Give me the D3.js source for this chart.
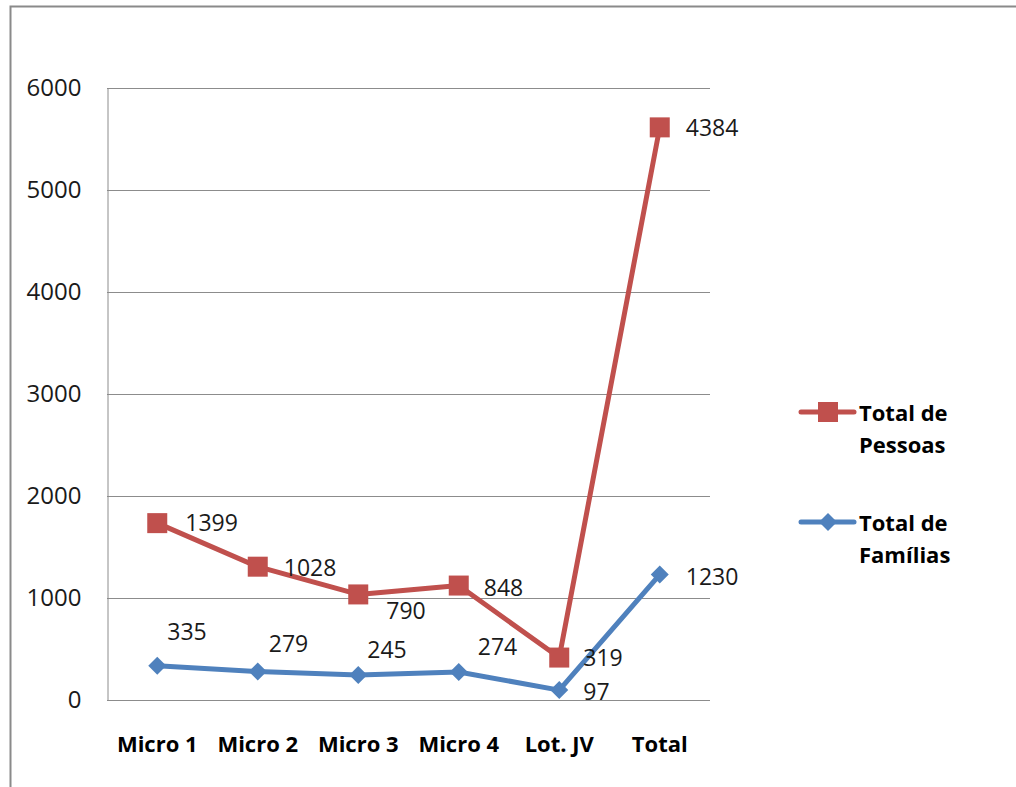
<!DOCTYPE html>
<html>
<head>
<meta charset="utf-8">
<script src="https://cdn.jsdelivr.net/npm/d3@7"></script>
<style>
  html, body { margin: 0; padding: 0; background: #fff; }
  svg { display: block; }
  text { font-family: "Open Sans", "Liberation Sans", sans-serif; }
</style>
</head>
<body>
<svg id="chart" width="1016" height="787"></svg>
<script>
// ---- data ----
const categories = ["Micro 1", "Micro 2", "Micro 3", "Micro 4", "Lot. JV", "Total"];
const familias = [335, 279, 245, 274, 97, 1230];
const pessoas = [1399, 1028, 790, 848, 319, 4384];
const yTicks = [0, 1000, 2000, 3000, 4000, 5000, 6000];
const seriesNames = ["Total de Pessoas", "Total de Famílias"];
// label placement offsets (dx, dy) relative to point
const pessoasLabelDx = [28, 26, 28, 25, 24, 26];
const pessoasLabelDy = [0, 1, 17, 2, 0, 1];
const familiasLabelDx = [10, 11, 9, 19, 24, 26];
const familiasLabelDy = [-34, -28, -25, -25, 2, 2];

(function () {
const svg = d3.select("#chart");
const W = 1016, H = 787;

// outer frame
svg.append("rect").attr("x", 10.5).attr("y", 6.5).attr("width", W + 20).attr("height", H + 20)
  .attr("fill", "#fff").attr("stroke", "#8a8a8a").attr("stroke-width", 2);

const pl = 107, pr = 710, pt = 88, pb = 700;
const x = d3.scaleBand().domain(categories).range([pl, pr]);
const cx = d => x(d) + x.bandwidth() / 2;
const y = d3.scaleLinear().domain([0, 6000]).range([pb, pt]);

// gridlines
svg.append("g").selectAll("line").data(yTicks).join("line")
  .attr("x1", pl).attr("x2", pr)
  .attr("y1", d => Math.round(y(d)) + 0.5).attr("y2", d => Math.round(y(d)) + 0.5)
  .attr("stroke", "#8c8c8c").attr("stroke-width", 1);

// y axis
const yAxis = d3.axisLeft(y).tickValues(yTicks).tickFormat(d3.format("d")).tickSize(0).tickPadding(26);
const gy = svg.append("g").attr("transform", `translate(${pl + 0.5},0)`).call(yAxis);
gy.select(".domain").attr("stroke", "#8c8c8c");
gy.selectAll("text").attr("font-size", 24).attr("fill", "#1a1a1a")
  .attr("font-family", "'Open Sans', sans-serif");

// x axis labels
const xAxis = d3.axisBottom(x).tickSize(0).tickPadding(0);
const gx = svg.append("g").attr("transform", `translate(0,${pb})`).call(xAxis);
gx.select(".domain").remove();
gx.selectAll("text").attr("font-size", 22).attr("font-weight", "bold").attr("fill", "#000")
  .attr("dy", 0).attr("y", 52).attr("font-family", "'Open Sans', sans-serif");

// stacked values: Pessoas plotted on top of Famílias
const stacked = pessoas.map((v, i) => v + familias[i]);

const red = "#C0504D", blue = "#4F81BD";
const line = d3.line().x((d, i) => cx(categories[i])).y(d => y(d));

svg.append("path").datum(familias).attr("d", line)
  .attr("fill", "none").attr("stroke", blue).attr("stroke-width", 5).attr("stroke-linejoin", "round");
svg.append("path").datum(stacked).attr("d", line)
  .attr("fill", "none").attr("stroke", red).attr("stroke-width", 5).attr("stroke-linejoin", "round");

// markers
const sq = 20, dm = 9;
svg.append("g").selectAll("rect").data(stacked).join("rect")
  .attr("x", (d, i) => cx(categories[i]) - sq / 2).attr("y", d => y(d) - sq / 2)
  .attr("width", sq).attr("height", sq).attr("fill", red);
svg.append("g").selectAll("path").data(familias).join("path")
  .attr("d", (d, i) => {
    const px = cx(categories[i]), py = y(d);
    return `M${px},${py - dm}L${px + dm},${py}L${px},${py + dm}L${px - dm},${py}Z`;
  }).attr("fill", blue);

// data labels
svg.append("g").selectAll("text").data(pessoas).join("text")
  .attr("x", (d, i) => cx(categories[i]) + pessoasLabelDx[i])
  .attr("y", (d, i) => y(stacked[i]) + pessoasLabelDy[i])
  .attr("dy", "0.35em").attr("font-size", 23).attr("fill", "#1a1a1a")
  .text(d => d);
svg.append("g").selectAll("text").data(familias).join("text")
  .attr("x", (d, i) => cx(categories[i]) + familiasLabelDx[i])
  .attr("y", (d, i) => y(d) + familiasLabelDy[i])
  .attr("dy", "0.35em").attr("font-size", 23).attr("fill", "#1a1a1a")
  .text(d => d);

// legend
const legend = [
  { name: seriesNames[0], color: red, marker: "square", ly: 412, lines: ["Total de", "Pessoas"] },
  { name: seriesNames[1], color: blue, marker: "diamond", ly: 522, lines: ["Total de", "Famílias"] }
];
const lg = svg.append("g");
legend.forEach(l => {
  lg.append("line").attr("x1", 801).attr("x2", 854).attr("y1", l.ly).attr("y2", l.ly)
    .attr("stroke", l.color).attr("stroke-width", 5).attr("stroke-linecap", "round");
  if (l.marker === "square") {
    lg.append("rect").attr("x", 828 - sq / 2).attr("y", l.ly - sq / 2).attr("width", sq).attr("height", sq).attr("fill", l.color);
  } else {
    lg.append("path").attr("d", `M828,${l.ly - dm}L${828 + dm},${l.ly}L828,${l.ly + dm}L${828 - dm},${l.ly}Z`).attr("fill", l.color);
  }
  const t = lg.append("text").attr("x", 859).attr("y", l.ly + 9).attr("font-size", 22)
    .attr("font-weight", "bold").attr("fill", "#000");
  l.lines.forEach((s, k) => t.append("tspan").attr("x", 859).attr("dy", k === 0 ? 0 : 32).text(s));
});
})();
</script>
</body>
</html>
